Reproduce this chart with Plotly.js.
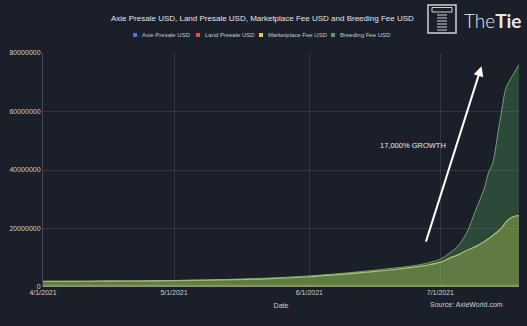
<!DOCTYPE html>
<html><head><meta charset="utf-8">
<script src="https://cdn.plot.ly/plotly-3.0.1.min.js"></script>
<style>html,body{margin:0;padding:0;background:#1b1f2a;}#c{width:527px;height:326px;}</style>
</head><body><div id="c"></div>
<script>
const dates = ['2021-04-01','2021-04-08','2021-04-15','2021-04-22','2021-05-01','2021-05-08','2021-05-15','2021-05-22','2021-06-01','2021-06-08','2021-06-15','2021-06-20','2021-06-25','2021-06-28','2021-07-01','2021-07-03','2021-07-05','2021-07-07','2021-07-09','2021-07-11','2021-07-12','2021-07-13','2021-07-14','2021-07-15','2021-07-16','2021-07-17','2021-07-18','2021-07-19'];
const axiePresale = [300000,300000,300000,300000,300000,300000,300000,300000,300000,300000,300000,300000,300000,300000,300000,300000,300000,300000,300000,300000,300000,300000,300000,300000,300000,300000,300000,300000];
const landPresale = [700000,700000,700000,700000,700000,700000,700000,700000,700000,700000,700000,700000,700000,700000,700000,700000,700000,700000,700000,700000,700000,700000,700000,700000,700000,700000,700000,700000];
const marketplaceFee = [1900000,1950000,2000000,2050000,2150000,2300000,2500000,2800000,3500000,4300000,5200000,5900000,6800000,7500000,8500000,9800000,11000000,12500000,13800000,15500000,16500000,17600000,18800000,20200000,22200000,23500000,24200000,24400000];
const breedingFee = [1900000,1950000,2000000,2050000,2200000,2400000,2650000,3000000,3800000,4600000,5600000,6400000,7300000,8200000,9500000,11500000,14000000,18500000,26000000,33500000,39000000,42500000,51000000,60000000,68000000,71000000,73500000,76000000];
const seriesNames = ['Axie Presale USD','Land Presale USD','Marketplace Fee USD','Breeding Fee USD'];
const titleText = 'Axie Presale USD, Land Presale USD, Marketplace Fee USD and Breeding Fee USD';
const legendColors = ['#4f74d6','#d9534f','#e6c84a','#4ea55a'];

const traces = [
  {x:dates,y:axiePresale,name:seriesNames[0],type:'scatter',mode:'lines',fill:'tozeroy',line:{color:'rgba(150,140,120,0.8)',width:0.5},fillcolor:'rgba(140,130,110,0.45)',showlegend:false},
  {x:dates,y:landPresale,name:seriesNames[1],type:'scatter',mode:'lines',fill:'tozeroy',line:{color:'rgba(170,150,110,0.9)',width:0.5},fillcolor:'rgba(190,160,110,0.4)',showlegend:false},
  {x:dates,y:marketplaceFee,name:seriesNames[2],type:'scatter',mode:'lines',fill:'tozeroy',line:{color:'#e3d27a',width:1.2,shape:'spline'},fillcolor:'rgba(200,190,70,0.45)',showlegend:false},
  {x:dates,y:breedingFee,name:seriesNames[3],type:'scatter',mode:'lines',fill:'tozeroy',line:{color:'#86b684',width:0.8,shape:'spline'},fillcolor:'rgba(80,160,90,0.33)',showlegend:false}
];

function px(xp){return (xp-43)/476;}
function py(yp){return (287-yp)/234;}
const lc = '#cfd2d8';
const shapes = [
  {type:'rect',xref:'paper',yref:'paper',x0:px(428),x1:px(456),y0:py(33),y1:py(5),line:{color:lc,width:1.5}},
  {type:'rect',xref:'paper',yref:'paper',x0:px(432),x1:px(452),y0:py(12),y1:py(7.5),line:{color:lc,width:1}}
];
[15,18,21,24,27,30].forEach(function(yy){
  shapes.push({type:'line',xref:'paper',yref:'paper',x0:px(437),x1:px(447),y0:py(yy),y1:py(yy),line:{color:lc,width:1}});
});
const legX = [135,198,261,333];
legX.forEach(function(xx,i){
  shapes.push({type:'rect',xref:'paper',yref:'paper',x0:px(xx-2),x1:px(xx+2),y0:py(37),y1:py(33),fillcolor:legendColors[i],line:{width:0}});
});
const annotations = [
  {x:'2021-07-10 10:00',y:75500000,ax:'2021-06-27 14:00',ay:15000000,axref:'x',ayref:'y',xref:'x',yref:'y',text:'',showarrow:true,arrowhead:2,arrowsize:1,arrowwidth:2,arrowcolor:'#ffffff'},
  {x:'2021-06-24 18:00',y:48500000,xref:'x',yref:'y',text:'17,000% GROWTH',showarrow:false,font:{family:'Liberation Sans, Arial',size:7.5,color:'#e8e8e8'}},
  {x:px(462),y:py(20),xref:'paper',yref:'paper',xanchor:'left',yanchor:'middle',text:'The<b>Tie</b>',showarrow:false,font:{family:'Lato, Noto Sans',size:19,weight:300,color:'#e8e9ec'}},
  {x:px(505),y:py(310),xref:'paper',yref:'paper',xanchor:'right',text:'Source: AxieWorld.com',showarrow:false,font:{family:'Liberation Sans, Arial',size:7,color:'#cfcfcf'}},
  {x:262/527,y:1-18/326,xref:'paper',yref:'paper',text:'',showarrow:false}
];
annotations.pop();
annotations.push({x:px(262),y:py(18),xref:'paper',yref:'paper',xanchor:'center',yanchor:'middle',text:titleText,showarrow:false,font:{family:'Liberation Sans, Arial',size:8,color:'#e6e6e6'}});
legX.forEach(function(xx,i){
  annotations.push({x:px(xx+5),y:py(35),xref:'paper',yref:'paper',xanchor:'left',yanchor:'middle',text:seriesNames[i],showarrow:false,font:{family:'Liberation Sans, Arial',size:6,color:'#c4c8d0'}});
});
const layout = {
  width:527,height:326,
  paper_bgcolor:'#1b1f2a',plot_bgcolor:'#1b1f2a',
  margin:{l:43,r:8,t:53,b:39},
  showlegend:false,
  xaxis:{type:'date',range:['2021-04-01','2021-07-19'],tick0:'2021-04-01',dtick:'M1',tickformat:'%-m/%-d/%Y',
    showgrid:true,gridcolor:'rgba(255,255,255,0.10)',zeroline:false,showline:false,ticks:'',
    tickfont:{family:'Liberation Sans, Arial',size:7,color:'#cfcfcf'},
    title:{text:'Date',font:{family:'Liberation Sans, Arial',size:7,color:'#cfcfcf'},standoff:8}},
  yaxis:{range:[0,80000000],dtick:20000000,tickformat:'d',showgrid:true,gridcolor:'rgba(255,255,255,0.10)',
    zeroline:false,showline:true,linecolor:'rgba(255,255,255,0.18)',linewidth:1,ticks:'',
    tickfont:{family:'Liberation Sans, Arial',size:7,color:'#cfcfcf'}},
  shapes:shapes,annotations:annotations,hovermode:false
};
Plotly.newPlot('c',traces,layout,{displayModeBar:false,staticPlot:true});
</script>
</body></html>
